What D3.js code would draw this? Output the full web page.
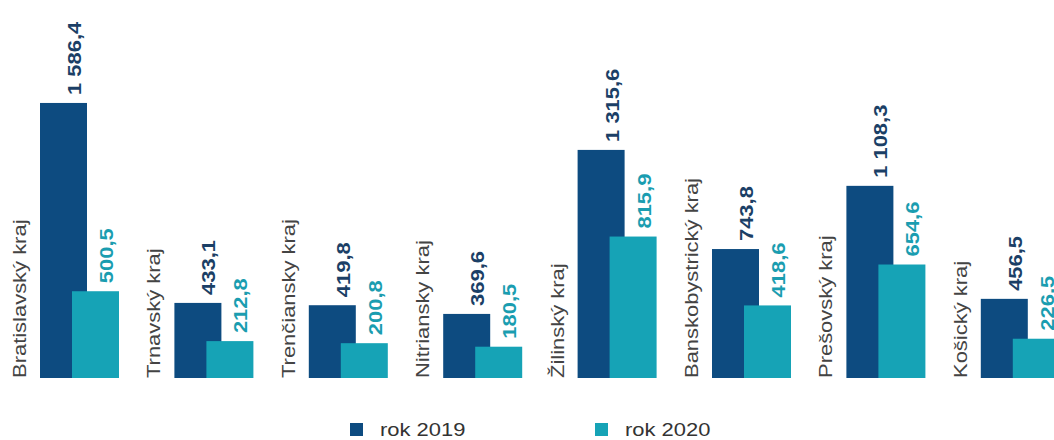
<!DOCTYPE html>
<html>
<head>
<meta charset="utf-8">
<script src="https://cdn.jsdelivr.net/npm/d3@7"></script>
<style>
  body { margin: 0; background: #fff; }
  svg { display: block; font-family: "Liberation Sans", Arial, sans-serif; }
</style>
</head>
<body>
<div id="chart"></div>
<script>
const regions = ["Bratislavský kraj", "Trnavský kraj", "Trenčiansky kraj", "Nitriansky kraj",
  "Žilinský kraj", "Banskobystrický kraj", "Prešovský kraj", "Košický kraj"];
const values2019 = [1586.4, 433.1, 419.8, 369.6, 1315.6, 743.8, 1108.3, 456.5];
const values2020 = [500.5, 212.8, 200.8, 180.5, 815.9, 418.6, 654.6, 226.5];
const seriesNames = ["rok 2019", "rok 2020"];

const width = 1054;
const height = 440;
const baseY = 378;
const stretch = 1.22; // text in the picture is wider than Arial

const colors = ["#0d4b80", "#16a3b6"];
const labelColors = ["#1b3f66", "#1a9db0"];

const svg = d3.select("#chart")
  .append("svg")
  .attr("width", width)
  .attr("height", height);

const x = d3.scaleBand()
  .domain(regions)
  .range([40, 40 + regions.length * 134.4])
  .paddingInner(0);

const y = d3.scaleLinear()
  .domain([0, 1600])
  .range([baseY, baseY - 277.4]);

const barW = 47;
const offsets = [0, 32];

const data = regions.map((r, i) => ({ region: r, vals: [values2019[i], values2020[i]] }));

const fmt = v => {
  const s = v.toFixed(1).replace(".", ",");
  const [int, dec] = s.split(",");
  return int.replace(/\B(?=(\d{3})+(?!\d))/g, " ") + "," + dec;
};

const g = svg.selectAll(".group")
  .data(data)
  .enter().append("g")
  .attr("class", "group")
  .attr("transform", d => `translate(${x(d.region)},0)`);

// bars, 2020 drawn over 2019
[0, 1].forEach(k => {
  g.append("rect")
    .attr("x", offsets[k])
    .attr("y", d => y(d.vals[k]))
    .attr("width", barW)
    .attr("height", d => baseY - y(d.vals[k]))
    .attr("fill", colors[k]);

  g.append("text")
    .attr("transform", d => `translate(${offsets[k] + 41},${y(d.vals[k]) - 8}) rotate(-90) scale(${stretch},1)`)
    .style("font-size", "18px")
    .style("font-weight", 700)
    .attr("fill", labelColors[k])
    .text(d => fmt(d.vals[k]));
});

// category labels
g.append("text")
  .attr("transform", `translate(-14,${baseY}) rotate(-90) scale(${stretch},1)`)
  .style("font-size", "18px")
  .attr("fill", "#444")
  .text(d => d.region);

// legend
const legend = svg.selectAll(".legend")
  .data(seriesNames)
  .enter().append("g")
  .attr("class", "legend")
  .attr("transform", (d, i) => `translate(${350 + i * 245},423)`);

legend.append("rect")
  .attr("width", 13)
  .attr("height", 13)
  .attr("fill", (d, i) => colors[i]);

legend.append("text")
  .attr("transform", `translate(30,13) scale(${stretch},1)`)
  .style("font-size", "18px")
  .attr("fill", "#333")
  .text(d => d);
</script>
</body>
</html>
